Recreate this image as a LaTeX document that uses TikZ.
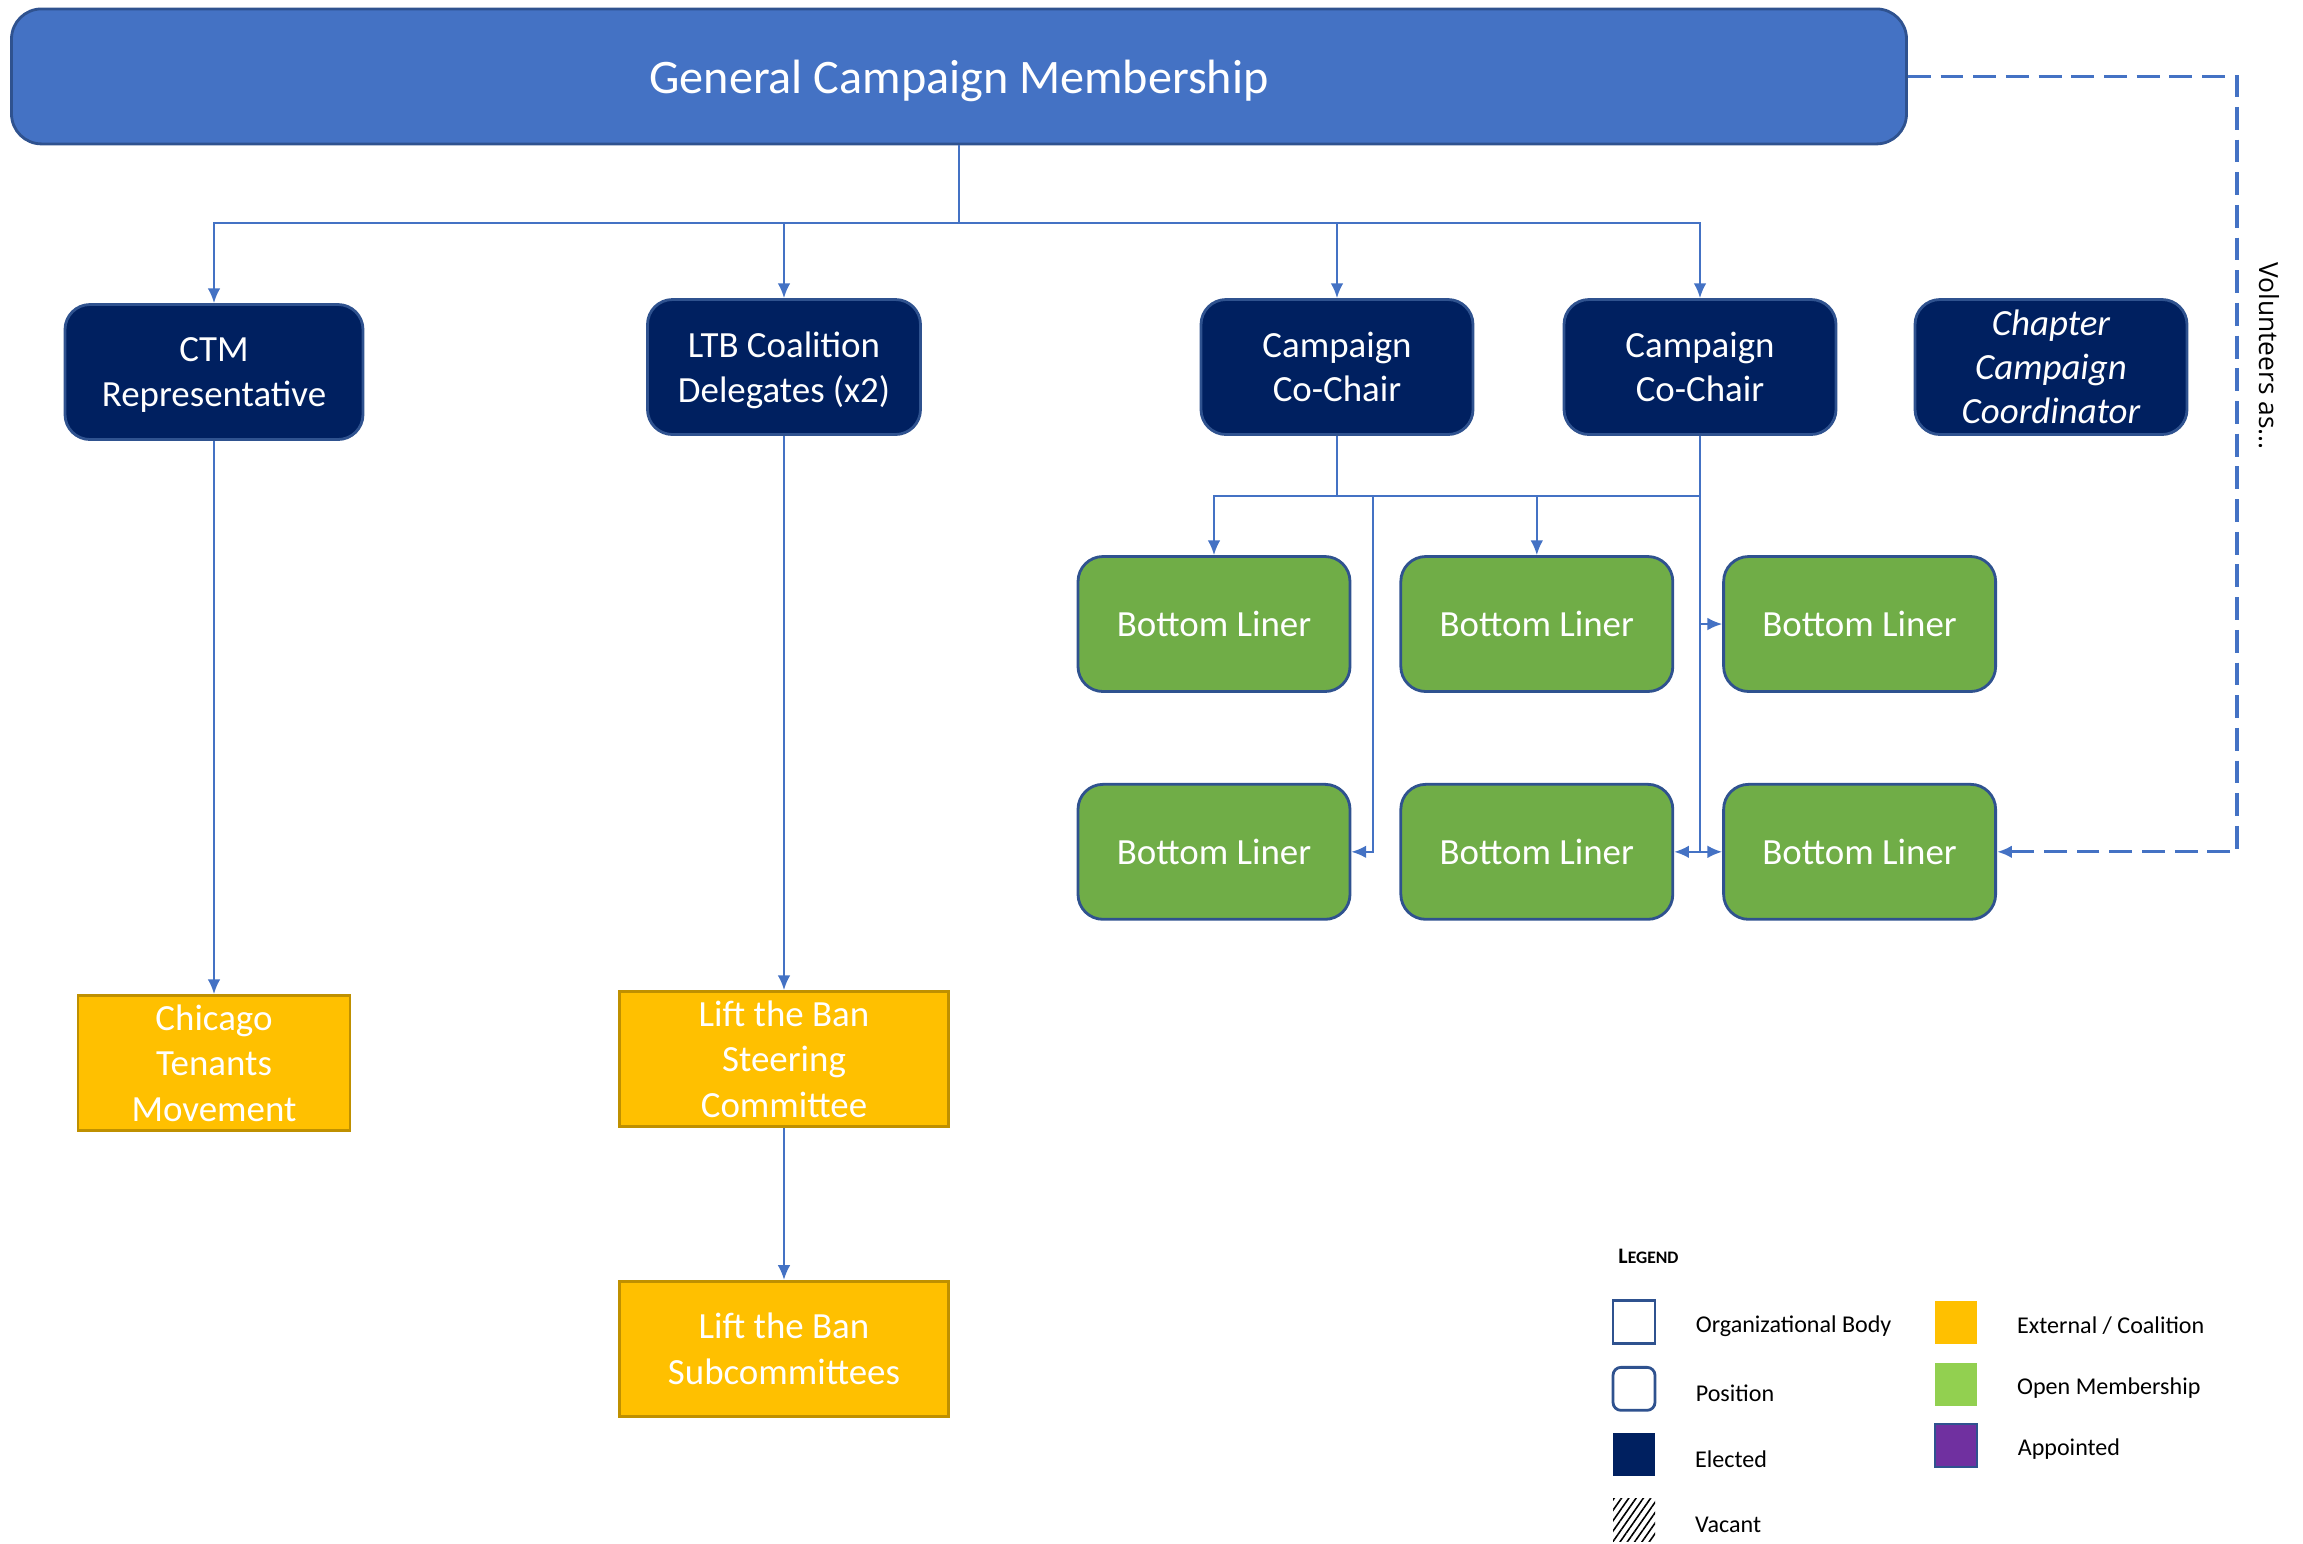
\documentclass[tikz,border=0pt]{standalone}
\usepackage{fontspec}
\setmainfont{Carlito}
\newfontfamily\volfont{Open Sans}
\usepackage{tikz}
\usetikzlibrary{positioning}
\usetikzlibrary{arrows.meta,patterns.meta}
\definecolor{barblue}{HTML}{4472C4}
\definecolor{edgeblue}{HTML}{2F528F}
\definecolor{navy}{HTML}{002060}
\definecolor{leafgreen}{HTML}{70AD47}
\definecolor{amber}{HTML}{FFC000}
\definecolor{amberedge}{HTML}{BF9000}
\definecolor{limegreen}{HTML}{92D050}
\definecolor{apptviolet}{HTML}{7030A0}

\begin{document}
\begin{tikzpicture}[
  every node/.style={font=\fontsize{10.5}{12.7}\selectfont, text=white, align=center},
  elected/.style={draw=edgeblue, line width=0.8pt, fill=navy, rounded corners=0.25cm,
    minimum width=2.72cm, minimum height=1.35cm, inner sep=2pt},
  liner/.style={elected, fill=leafgreen},
  outside/.style={draw=amberedge, line width=0.8pt, fill=amber, minimum height=1.35cm,
    inner sep=1pt, font=\fontsize{10.5}{12.9}\selectfont},
  wire/.style={draw=barblue, line width=0.6pt},
  link/.style={wire, -{Latex[length=4.2pt,width=3.6pt]}},
  key/.style={minimum width=0.42cm, minimum height=0.43cm, inner sep=0pt},
  keytext/.style={text=black, font=\fontsize{6.85}{8}\selectfont, yshift=-0.04cm}
]
\useasboundingbox (0,0) rectangle (23.03,-15.43);

\node[draw=edgeblue, line width=0.8pt, fill=barblue, rounded corners=0.3cm, text depth=0pt,
  minimum width=18.95cm, minimum height=1.35cm, font=\fontsize{13.7}{16}\selectfont]
  (gcm) at (9.59,-0.764) {General Campaign Membership};

\node[elected, minimum width=2.98cm, text depth=0pt] (ctm) at (2.14,-3.72) {CTM\\Representative};
\node[elected, minimum width=2.73cm, text depth=0pt] (ltb) at (7.84,-3.67) {LTB Coalition\\Delegates (x2)};
\node[elected] (chairA) at (13.37,-3.67) {Campaign\\Co-Chair};
\node[elected] (chairB) at (17.00,-3.67) {Campaign\\Co-Chair};
\node[elected, font=\fontsize{10.5}{12.6}\selectfont\itshape] (coord) at (20.51,-3.67)
  {Chapter\\Campaign\\Coordinator};

\node[liner] (bl1) at (12.14,-6.24) {Bottom Liner};
\node[liner, right=0.48cm of bl1] (bl2) {Bottom Liner};
\node[liner, right=0.48cm of bl2] (bl3) {Bottom Liner};
\node[liner, below=0.9cm of bl1] (bl4) {Bottom Liner};
\node[liner, right=0.48cm of bl4] (bl5) {Bottom Liner};
\node[liner, right=0.48cm of bl5] (bl6) {Bottom Liner};

\node[outside, minimum width=2.72cm] (ctmorg) at (2.14,-10.63) {Chicago\\Tenants\\Movement};
\node[outside, minimum width=3.29cm] (steer) at (7.84,-10.59) {Lift the Ban\\Steering\\Committee};
\node[outside, minimum width=3.29cm, below=1.52cm of steer] (subc) {Lift the Ban\\Subcommittees};

\coordinate (hub) at (9.59,-2.23);
\draw[wire] (gcm.south) -- (hub);
\draw[link] (hub) -| (ctm.north);
\draw[link] (hub) -| (ltb.north);
\draw[link] (hub) -| (chairA.north);
\draw[link] (hub) -| (chairB.north);
\draw[link] (ctm) -- (ctmorg);
\draw[link] (ltb) -- (steer);
\draw[link] (steer) -- (subc);

\coordinate (split) at (13.37,-4.96);
\coordinate (tap) at (13.73,-4.96);
\draw[wire] (chairA.south) -- (split);
\draw[link] (split) -| (bl1.north);
\draw[link] (split) -| (bl2.north);
\draw[wire] (split) -- (split -| chairB.south);
\draw[link] (tap) |- (bl4.east);
\draw[link] (chairB.south) |- (bl6.west);
\draw[link] (chairB.south |- bl3.west) -- (bl3.west);
\draw[link] (chairB.south |- bl5.east) -- (bl5.east);

\coordinate (bend) at (22.37,-0.764);
\draw[link, line width=0.9pt, dash pattern=on 6.5pt off 2.8pt] (gcm.east) -- (bend) |- (bl6.east);
\node[text=black, rotate=-90, font=\volfont\fontsize{7.5}{9}\selectfont] (vol) at (22.69,-3.56) {Volunteers as...};

% legend
\node[keytext, anchor=west, font=\fontsize{6.3}{7}\selectfont\bfseries] (lgd) at (16.06,-12.52)
  {L{\fontsize{5}{6}\selectfont EGEND}};
\node[key, draw=edgeblue, line width=0.8pt, fill=white] (korg) at (16.34,-13.22) {};
\node[key, draw=edgeblue, line width=0.8pt, fill=white, rounded corners=0.08cm, below=0.21cm of korg] (kpos) {};
\node[key, fill=navy, below=0.21cm of kpos] (kele) {};
\node[key, pattern={Lines[angle=55, distance=1.7pt, line width=0.45pt]}, below=0.21cm of kele] (kvac) {};
\node[keytext, right=0.27cm of korg] (torg) {Organizational Body};
\node[keytext, right=0.27cm of kpos] (tpos) {Position};
\node[keytext, right=0.27cm of kele] (tele) {Elected};
\node[keytext, right=0.27cm of kvac] (tvac) {Vacant};

\node[key, fill=amber] (kext) at (19.56,-13.22) {};
\node[key, fill=limegreen, below=0.18cm of kext] (kopen) {};
\node[key, fill=apptviolet, draw=edgeblue, line width=0.8pt, below=0.16cm of kopen] (kapp) {};
\node[keytext, right=0.27cm of kext] (text) {External / Coalition};
\node[keytext, right=0.27cm of kopen] (topen) {Open Membership};
\node[keytext, right=0.27cm of kapp] (tapp) {Appointed};
\end{tikzpicture}
\end{document}
